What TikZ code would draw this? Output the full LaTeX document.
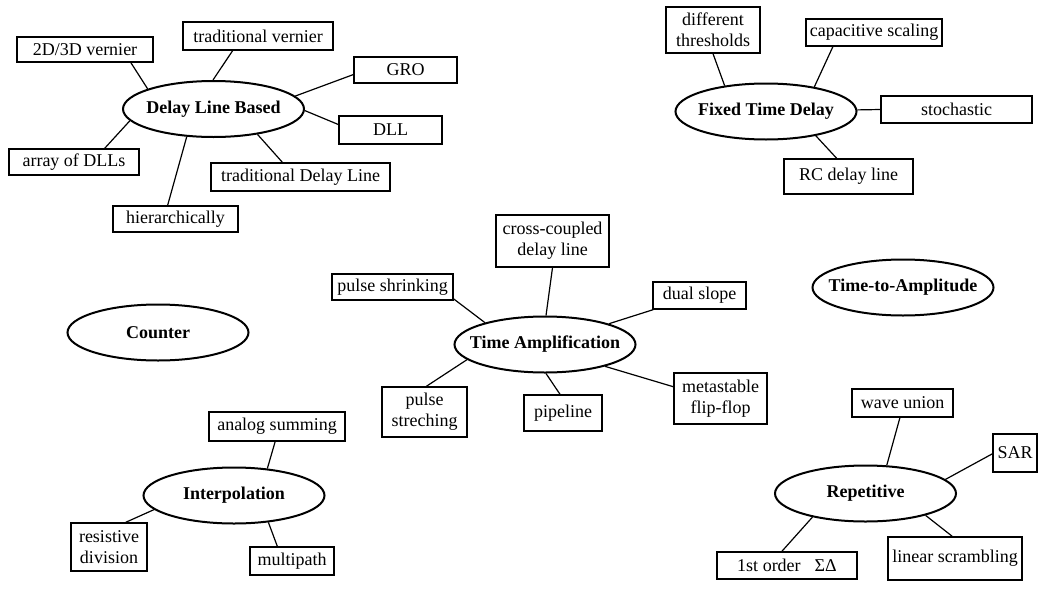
\documentclass[tikz,border=0pt]{standalone}
\usepackage{fontspec}
\setmainfont{Liberation Serif}
\usetikzlibrary{shapes.geometric}
\newcommand{\ctxt}[1]{\makebox[0pt]{#1}}
\tikzset{
  cat/.style={ellipse, draw, line width=1pt, minimum width=90.5pt, minimum height=28pt,
    inner sep=0pt, font=\fontsize{9}{10.5}\selectfont\bfseries},
  leaf/.style={rectangle, draw, line width=0.65pt, inner sep=1pt, align=center,
    font=\fontsize{9}{10.5}\selectfont},
  link/.style={line width=0.6pt}
}
\begin{document}
\begin{tikzpicture}[x=0.5pt, y=-0.5pt]
\useasboundingbox (0,0) rectangle (1043,589);

% Delay Line Based
\node[cat] (dlb) at (213.5,109) {\ctxt{Delay Line Based}};
\node[leaf, minimum width=68pt, minimum height=12.5pt] (v2d) at (85,49.5) {2D/3D vernier};
\node[leaf, minimum width=75pt, minimum height=14pt] (tv) at (258,36) {traditional vernier};
\node[leaf, minimum width=51.5pt, minimum height=13pt] (gro) at (405.5,70) {GRO};
\node[leaf, minimum width=51.5pt, minimum height=14pt] (dll) at (390.5,130) {DLL};
\node[leaf, minimum width=65pt, minimum height=13pt] (adll) at (74,162) {array of DLLs};
\node[leaf, minimum width=89.5pt, minimum height=14pt] (tdl) at (300.5,177) {traditional Delay Line};
\node[leaf, minimum width=62.5pt, minimum height=13pt] (hier) at (175.5,219) {hierarchically};
\draw[link] (dlb.163.4) -- (v2d.-16.2);
\draw[link] (dlb.91) -- (tv.-150.8);
\draw[link] (dlb.9.4) -- (gro.-175.6);
\draw[link] (dlb.-1.9) -- (dll.174.6);
\draw[link] (dlb.-30) -- (tdl.141.3);
\draw[link] (dlb.-134.5) -- (hier.120);
\draw[link] (dlb.188.6) -- (adll.24.9);

% Fixed Time Delay
\node[cat] (ftd) at (766,111.5) {\ctxt{Fixed Time Delay}};
\node[leaf, minimum width=47pt, minimum height=23pt] (dth) at (713,30) {different\\thresholds};
\node[leaf, minimum width=68pt, minimum height=13.5pt] (cap) at (874,32.5) {capacitive scaling};
\node[leaf, minimum width=75.5pt, minimum height=13.5pt] (sto) at (956.5,109.5) {stochastic};
\node[leaf, minimum width=64.5pt, minimum height=17.5pt] (rc) at (848.5,176.5) {RC delay line};
\draw[link] (ftd.148.4) -- (dth.-90);
\draw[link] (ftd.27.5) -- (cap.-161.4);
\draw[link] (ftd.1.6) -- (sto.180);
\draw[link] (ftd.-26.1) -- (rc.123.3);

% Time Amplification
\node[cat] (ta) at (545,344.5) {\ctxt{Time Amplification}};
\node[leaf, minimum width=56.5pt, minimum height=26pt] (ccd) at (552.5,241) {cross-coupled\\delay line};
\node[leaf, minimum width=60.5pt, minimum height=13pt] (psh) at (392.5,287) {pulse shrinking};
\node[leaf, minimum width=46.5pt, minimum height=13.5pt] (ds) at (699.5,295.5) {dual slope};
\node[leaf, minimum width=42.5pt, minimum height=25pt] (pst) at (424.5,412) {pulse\\streching};
\node[leaf, minimum width=39pt, minimum height=18pt] (pip) at (563,413) {pipeline};
\node[leaf, minimum width=46.5pt, minimum height=25.5pt] (meta) at (720.5,398.5) {metastable\\flip-flop};
\draw[link] (ta.88) -- (ccd.-90);
\draw[link] (ta.160) -- (psh.-11.7);
\draw[link] (ta.18.3) -- (ds.-163.8);
\draw[link] (ta.191.7) -- (pst.86.4);
\draw[link] (ta.-88) -- (pip.99.5);
\draw[link] (ta.-20.2) -- (meta.166.1);

% Counter and Time-to-Amplitude
\node[cat] (cnt) at (158,332.5) {\ctxt{Counter}};
\node[cat] (tta) at (903,287.5) {\ctxt{Time-to-Amplitude}};

% Interpolation
\node[cat] (interp) at (234,495.5) {\ctxt{Interpolation}};
\node[leaf, minimum width=68pt, minimum height=14.5pt] (asum) at (277,426.5) {analog summing};
\node[leaf, minimum width=38pt, minimum height=24pt] (rdiv) at (109,547) {resistive\\division};
\node[leaf, minimum width=42pt, minimum height=14pt] (mpath) at (292,561) {multipath};
\draw[link] (interp.39.8) -- (asum.-97.9);
\draw[link] (interp.190.1) -- (rdiv.56.3);
\draw[link] (interp.-38.2) -- (mpath.135);

% Repetitive
\node[cat] (rep) at (865.5,493.5) {\ctxt{Repetitive}};
\node[leaf, minimum width=50.5pt, minimum height=14pt] (wu) at (902.5,403) {wave union};
\node[leaf, minimum width=22pt, minimum height=19pt] (sar) at (1015,453) {SAR};
\node[leaf, minimum width=70pt, minimum height=13.5pt] (sd) at (787,565.5) {1st order\hspace{7pt}ΣΔ};
\node[leaf, minimum width=67pt, minimum height=21.5pt] (lsc) at (955,558.5) {linear scrambling};
\draw[link] (rep.53.3) -- (wu.-100);
\draw[link] (rep.10.1) -- (sar.182.6);
\draw[link] (rep.204.5) -- (sd.110.3);
\draw[link] (rep.-20.9) -- (lsc.97.9);
\end{tikzpicture}
\end{document}
